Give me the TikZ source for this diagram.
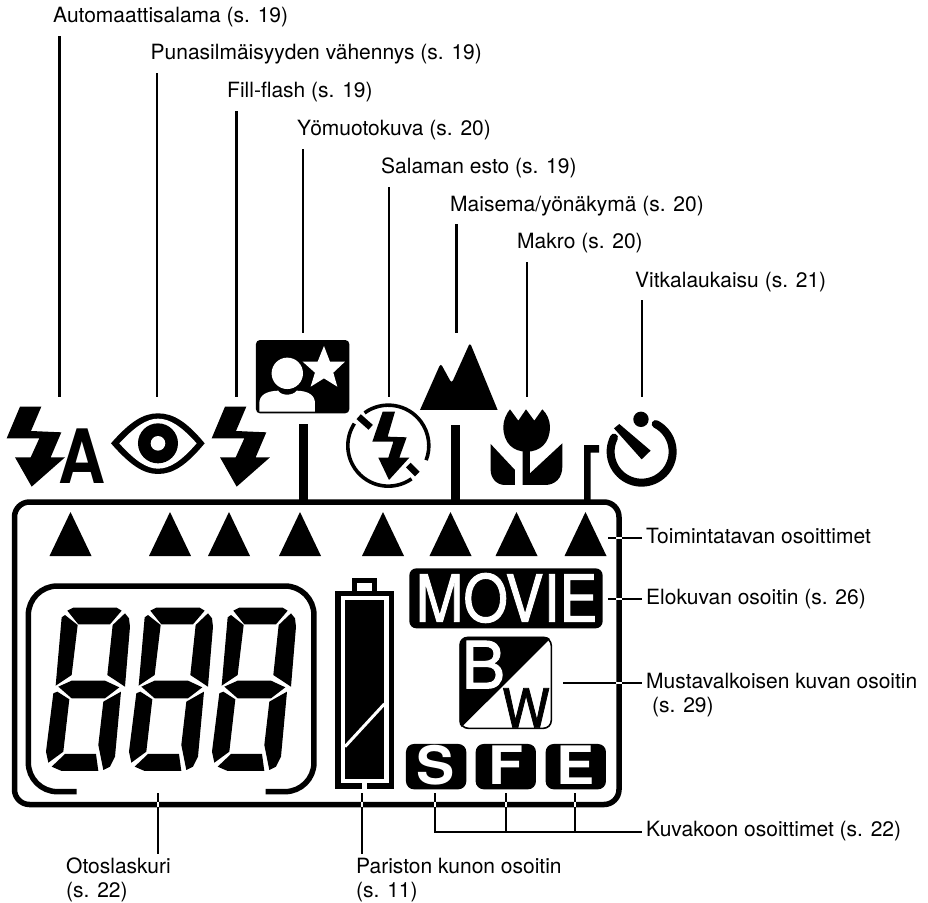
\documentclass[tikz,border=0pt]{standalone}
\usepackage{fontspec}
\setmainfont{TeX Gyre Heros}
\newfontface\heavyface{TeX Gyre Heros}[FakeBold=1.5]
\usetikzlibrary{positioning}
\usetikzlibrary{calc}
\newcommand{\flashbolt}{
	\fill (60,230) -- (124,230) -- (93,303) -- (184,307) -- (152,382) -- (195,382) -- (95,470) -- (45,382) -- (92,382) -- (118,325) -- (20,325) -- cycle;
}
\newcommand{\lcddigit}{
	\fill (172,122) -- (190,113) -- (320,113) -- (335,122) -- (300,163) -- (205,163) -- cycle;
	\fill (155,142) -- (165,135) -- (203,165) -- (185,315) -- (137,347) -- cycle;
	\fill (345,130) -- (357,145) -- (360,170) -- (345,350) -- (292,315) -- (308,165) -- cycle;
	\fill (145,350) -- (185,332) -- (285,332) -- (328,352) -- (285,385) -- (185,385) -- cycle;
	\fill (130,370) -- (142,365) -- (178,388) -- (160,545) -- (115,578) -- (108,545) -- cycle;
	\fill (333,365) -- (315,560) -- (300,590) -- (280,600) -- (265,525) -- (280,395) -- cycle;
	\fill (125,590) -- (165,552) -- (258,552) -- (265,603) -- (155,603) -- cycle;
}
\tikzset{
	leader/.style={draw=black, line width=2.2pt},
	crosstick/.style={draw=white, line width=1.6pt},
	lbl/.style={anchor=base west, inner sep=0pt, text=black, font=\fontsize{21}{24}\selectfont},
	glyph/.style={anchor=base, inner sep=0pt, text=white},
	bigbar/.style={line width=9pt},
	zoomone/.style={shift={(0,330)}, x=0.3333pt, y=-0.3333pt},
	zoomtwo/.style={shift={(340,330)}, x=0.3333pt, y=-0.3333pt},
	zoomlcd/.style={shift={(10,570)}, x=0.3333pt, y=-0.3333pt},
	zoomind/.style={shift={(320,550)}, x=0.3333pt, y=-0.3333pt}
}

\begin{document}
\begin{tikzpicture}[x=1pt, y=-1pt]
\useasboundingbox (0,0) rectangle (928,902);

% labels on top
\node[lbl] (lblAuto) at (53,22) {Automaattisalama (s. 19)};
\node[lbl] (lblEye) at (150.5,59) {Punasilmäisyyden vähennys (s. 19)};
\node[lbl] (lblFill) at (227,97) {Fill-flash (s. 19)};
\node[lbl] (lblNight) at (297,135) {Yömuotokuva (s. 20)};
\node[lbl] (lblOff) at (381,173) {Salaman esto (s. 19)};
\node[lbl] (lblLand) at (450,211) {Maisema/yönäkymä (s. 20)};
\node[lbl] (lblMacro) at (517,248) {Makro (s. 20)};
\node[lbl] (lblTimer) at (635,287) {Vitkalaukaisu (s. 21)};

% labels right and below
\node[lbl] (lblMode) at (646,543) {Toimintatavan osoittimet};
\node[lbl] (lblMovie) at (646,604) {Elokuvan osoitin (s. 26)};
\node[lbl] (lblBw) at (646,688) {Mustavalkoisen kuvan osoitin};
\node[lbl] (lblBwPage) at (652,712) {(s. 29)};
\node[lbl] (lblSize) at (646,836) {Kuvakoon osoittimet (s. 22)};
\node[lbl] (lblCount) at (66,873) {Otoslaskuri};
\node[lbl] (lblCountPage) at (66,897) {(s. 22)};
\node[lbl] (lblBatt) at (356,873) {Pariston kunon osoitin};
\node[lbl] (lblBattPage) at (356,897) {(s. 11)};

% display frame
\draw[line width=5.5pt, rounded corners=15pt] (14.5,502) rectangle (619,804.5);

% mode markers
\foreach \a in {70.5,170,229,300,383,450.5,516.5,585.5}
	\fill ({\a-21},556) -- (\a,512) -- ({\a+21},556) -- cycle;

% free ends of the leaders
\foreach \n/\x/\t/\b in {auto/59.5/36/397, eye/157/73/397, fill/236.5/111/397, night/303/149/333, off/389/187/397, land/456.5/224/333, macro/527/262/397, timer/642/300/397} {
	\coordinate (\n Top) at (\x,\t);
	\coordinate (\n End) at (\x,\b);
	\draw[leader] (\n Top) -- (\n End);
}
\foreach \n/\y in {mode/538, movie/599, bw/683} {
	\coordinate (\n Out) at (642,\y);
}
\coordinate (modeIn) at (608,538);
\coordinate (movieIn) at (608,599);
\coordinate (bwIn) at (563,683);
\draw[leader] (modeIn) -- (modeOut);
\draw[leader] (movieIn) -- (movieOut);
\draw[leader] (bwIn) -- (bwOut);

\coordinate (countIn) at (157.7,793);
\coordinate (countOut) at (157.7,854);
\coordinate (battIn) at (362,793);
\coordinate (battOut) at (362,854);
\draw[leader] (countIn) -- (countOut);
\draw[leader] (battIn) -- (battOut);

\coordinate (sizeS) at (435,793);
\coordinate (sizeF) at (506,793);
\coordinate (sizeE) at (575,793);
\coordinate (sizeJoin) at (435,832);
\coordinate (sizeOut) at (642,832);
\draw[leader] (sizeS) -- (sizeJoin) -- (sizeOut);
\draw[leader] (sizeF) -- (sizeF |- sizeOut);
\draw[leader] (sizeE) -- (sizeE |- sizeOut);

% white where a leader runs over the frame
\foreach \x in {157.7,362,435,506,575}
	\draw[crosstick] (\x,801.8) -- (\x,807.2);
\foreach \y in {538,599,683}
	\draw[crosstick] (616.3,\y) -- (621.7,\y);

% bars from the icons to the frame
\draw[bigbar] (303.5,424) -- (303.5,500);
\draw[bigbar] (455.5,425) -- (455.5,500);
\fill (584,500) -- (584,445) -- (599,445) -- (599,452.5) -- (590.7,452.5) -- (590.7,500) -- cycle;

% flash, eye, portrait
\begin{scope}[zoomone]
\flashbolt
\begin{scope}[xshift=205pt]
\flashbolt
\end{scope}
\node[glyph, text=black, font=\bfseries\fontsize{75}{75}\selectfont] (autoA) at (245,462) {\scalebox{0.87}[1]{A}};

\fill (333,340) .. controls (390,275) and (430,250) .. (474,250) .. controls (520,250) and (560,275) .. (614,340) .. controls (560,405) and (520,432) .. (474,432) .. controls (430,432) and (390,405) .. (333,340) -- cycle;
\fill[white] (358,340) .. controls (405,290) and (440,266) .. (474,266) .. controls (510,266) and (545,290) .. (590,340) .. controls (545,392) and (510,416) .. (474,416) .. controls (440,416) and (405,392) .. (358,340) -- cycle;
\fill (474,340) circle (20pt);
\fill[white] (474,340) circle (7.3pt);

\fill[rounded corners=4pt] (768,30) rectangle (1048,250);
\fill[white] (862,130) circle (15.7pt);
\fill[white] (778,245) -- (778,220) .. controls (778,195) and (800,183) .. (835,182) .. controls (842,198) and (880,198) .. (890,182) .. controls (925,183) and (945,195) .. (945,220) -- (945,245) -- cycle;
\fill[white] (972,48) -- (990,95) -- (1035,95) -- (1000,128) -- (1012,170) -- (972,145) -- (932,170) -- (945,128) -- (908,95) -- (953,95) -- cycle;
\end{scope}

% flash off, mountains, tulip, timer
\begin{scope}[zoomtwo]
\coordinate (offCentre) at (145,347);
\draw[line width=3.6pt] (offCentre) ++(-55:40.5pt) arc (-55:-213:40.5pt);
\draw[line width=3.6pt] (offCentre) ++(126:40.5pt) arc (126:-21:40.5pt);
\draw[line width=6.5pt] (56,260) -- (92,292);
\draw[line width=6.5pt] (205,405) -- (232,432);
\fill (128,245) -- (165,245) -- (143,320) -- (200,322) -- (178,383) -- (208,383) -- (147,450) -- (115,383) -- (145,383) -- (160,335) -- (97,335) -- cycle;

\fill (240,240) [rounded corners=3pt] -- (302,100) -- (335,160) -- (390,38) [sharp corners] -- (473,240) -- cycle;

\fill (490,290) .. controls (490,270) and (500,250) .. (510,238) -- (535,272) -- (558,238) -- (583,272) -- (607,238) .. controls (620,250) and (630,270) .. (630,290) .. controls (630,340) and (600,365) .. (560,365) .. controls (520,365) and (490,340) .. (490,290) -- cycle;
\fill (452,342) -- (525,420) -- (525,465) -- (495,465) .. controls (470,465) and (452,445) .. (452,420) -- cycle;
\fill (548,355) -- (570,355) -- (570,430) -- (667,340) -- (667,410) .. controls (667,445) and (645,465) .. (615,465) -- (548,465) -- cycle;

\coordinate (timerCentre) at (905,365);
\draw[line width=8pt, line cap=round] (timerCentre) ++(63:31pt) arc (63:-207:31pt);
\fill (903,268) circle (7.7pt);
\fill (822,295) -- (838,282) -- (932,362) -- (905,388) -- cycle;
\end{scope}

% frame of the counter, three digits
\begin{scope}[zoomlcd]
\draw[line width=5.5pt, rounded corners=29pt] (200,665) -- (55,665) -- (55,48) -- (912,48) -- (912,665) -- (767,665);
\foreach \d in {0,1,2} {
	\begin{scope}[xshift=\d*83pt]
	\lcddigit
	\end{scope}
}
\end{scope}

% battery and the indicators
\begin{scope}[zoomind]
\fill (46,122) rectangle (221,718);
\fill (97,84) rectangle (170,122);
\fill[white] (112,100) rectangle (156,122);
\fill[white] (62,138) rectangle (207,700);
\fill (75,150) rectangle (193,688);
\fill[white] (127,695) rectangle (142,720);
\draw[white, line width=3pt] (75,590) -- (193,462);

\fill[rounded corners=7pt] (268,55) rectangle (848,235);
\node[glyph, font=\heavyface\fontsize{65}{65}\selectfont] (txtMovie) at (560,215) {\scalebox{0.88}[1]{MOVIE}};

\begin{scope}
\clip[rounded corners=8pt] (418,260) rectangle (697,538);
\fill (418,538) -- (418,260) -- (697,260) -- cycle;
\end{scope}
\draw[line width=1.6pt, rounded corners=8pt] (421,263) rectangle (694,535);
\node[glyph, font=\heavyface\fontsize{65}{65}\selectfont] (txtB) at (490,415) {B};
\node[glyph, text=black, font=\heavyface\fontsize{54}{54}\selectfont] (txtW) at (618,533) {\scalebox{0.93}[1]{W}};

\foreach \n/\a/\t in {sizeBoxS/258/S, sizeBoxF/467/F, sizeBoxE/677/E} {
	\fill[rounded corners=8pt] (\a,582) rectangle ({\a+181},718);
	\node[glyph, font=\bfseries\fontsize{53}{53}\selectfont] (\n) at ({\a+90},705) {\scalebox{1.08}[1]{\t}};
}
\end{scope}

\end{tikzpicture}
\end{document}
